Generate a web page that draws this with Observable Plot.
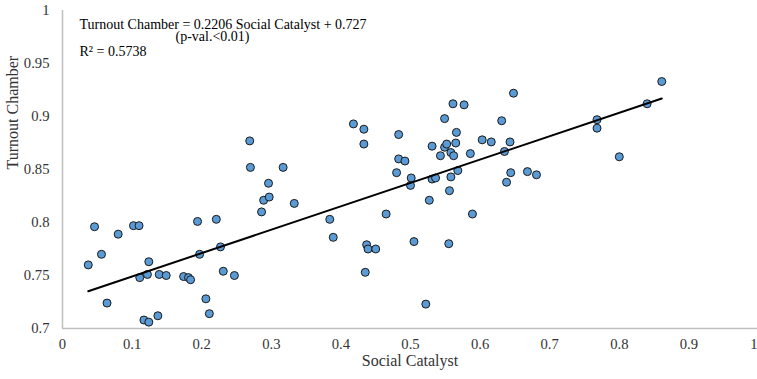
<!DOCTYPE html>
<html>
<head>
<meta charset="utf-8">
<script src="https://cdn.jsdelivr.net/npm/d3@7"></script>
<script src="https://cdn.jsdelivr.net/npm/@observablehq/plot@0.6"></script>
<style>
  html, body { margin: 0; padding: 0; background: #fff; }
  #chart svg { display: block; }
</style>
</head>
<body>
<div id="chart"></div>
<script>
const socialCatalyst = [
  0.037, 0.046, 0.056, 0.064, 0.080, 0.102, 0.110, 0.111, 0.122, 0.124,
  0.117, 0.124, 0.137, 0.139, 0.149, 0.174, 0.181, 0.184, 0.194, 0.197,
  0.206, 0.211, 0.221, 0.227, 0.231, 0.247, 0.269, 0.270, 0.296, 0.289,
  0.297, 0.286, 0.317, 0.333, 0.384, 0.389, 0.418, 0.433, 0.433, 0.435,
  0.437, 0.439, 0.450, 0.465, 0.480, 0.483, 0.483, 0.492, 0.500, 0.501,
  0.505, 0.522, 0.527, 0.531, 0.531, 0.536, 0.543, 0.549, 0.549, 0.552,
  0.555, 0.556, 0.558, 0.558, 0.562, 0.561, 0.565, 0.566, 0.568, 0.577,
  0.586, 0.589, 0.603, 0.616, 0.631, 0.635, 0.638, 0.643, 0.644, 0.668,
  0.681, 0.648, 0.768, 0.768, 0.800, 0.840, 0.861
];
const turnoutChamber = [
  0.760, 0.796, 0.770, 0.724, 0.789, 0.797, 0.797, 0.748, 0.751, 0.763,
  0.708, 0.706, 0.712, 0.751, 0.750, 0.749, 0.748, 0.746, 0.801, 0.770,
  0.728, 0.714, 0.803, 0.777, 0.754, 0.750, 0.877, 0.852, 0.837, 0.821,
  0.824, 0.810, 0.852, 0.818, 0.803, 0.786, 0.893, 0.888, 0.874, 0.753,
  0.779, 0.775, 0.775, 0.808, 0.847, 0.860, 0.883, 0.858, 0.835, 0.842,
  0.782, 0.723, 0.821, 0.872, 0.841, 0.842, 0.863, 0.898, 0.871, 0.874,
  0.780, 0.830, 0.843, 0.866, 0.863, 0.912, 0.875, 0.885, 0.849, 0.911,
  0.865, 0.808, 0.878, 0.876, 0.896, 0.867, 0.838, 0.876, 0.847, 0.848,
  0.845, 0.922, 0.897, 0.889, 0.862, 0.912, 0.933
];
const xTicks = [0, 0.1, 0.2, 0.3, 0.4, 0.5, 0.6, 0.7, 0.8, 0.9];
const xTickLabels = ["0", "0.1", "0.2", "0.3", "0.4", "0.5", "0.6", "0.7", "0.8", "0.9"];
const xLastTick = [1];
const xLastTickLabel = ["1"];
const yTicks = [0.7, 0.75, 0.8, 0.85, 0.9, 0.95, 1];
const yTickLabels = ["0.7", "0.75", "0.8", "0.85", "0.9", "0.95", "1"];
const trendSlope = 0.2206;
const trendIntercept = 0.727;
const annotationLines = [
  "Turnout Chamber = 0.2206 Social Catalyst + 0.727",
  "(p-val.<0.01)",
  "R\u00B2 = 0.5738"
];
const xTitle = "Social Catalyst";
const yTitle = "Turnout Chamber";

const points = socialCatalyst.map((x, i) => ({x, y: turnoutChamber[i]}));
const xMin = d3.min(socialCatalyst), xMax = d3.max(socialCatalyst);
const trend = [xMin, xMax].map(x => ({x, y: trendSlope * x + trendIntercept}));

const font = "'Liberation Serif', 'Times New Roman', serif";
const textColor = "#333";
const tickFont = 14.67;

const chart = Plot.plot({
  width: 757,
  height: 379,
  marginLeft: 62,
  marginRight: 0,
  marginTop: 10,
  marginBottom: 51,
  style: {fontFamily: font, fontSize: "14px", color: textColor, background: "#fff", overflow: "visible"},
  x: {domain: [0, 1], range: [62, 758]},
  y: {domain: [0.7, 1], range: [328, 10]},
  marks: [
    Plot.axisX(xTicks, {tickSize: 0, tickPadding: 10, tickFormat: (d, i) => xTickLabels[i], label: null, fontSize: tickFont, fontFamily: font}),
    Plot.axisX(xLastTick, {tickSize: 0, tickPadding: 10, tickFormat: (d, i) => xLastTickLabel[i], label: null, fontSize: tickFont, fontFamily: font, textAnchor: "end", dx: -1}),
    Plot.axisY(yTicks, {tickSize: 0, tickPadding: 13, tickFormat: (d, i) => yTickLabels[i], label: null, fontSize: tickFont, fontFamily: font}),
    Plot.ruleY([0.7], {stroke: "#bfbfbf", strokeWidth: 1.5}),
    Plot.ruleX([0], {stroke: "#bfbfbf", strokeWidth: 1.5}),
    Plot.dot(points, {x: "x", y: "y", r: 4, fill: "#5B9BD5", stroke: "#1a1a1a", strokeWidth: 1}),
    Plot.line(trend, {x: "x", y: "y", stroke: "#000", strokeWidth: 2}),
    Plot.text([annotationLines[0]], {frameAnchor: "top-left", textAnchor: "start", lineAnchor: "top", dx: 17, dy: 9, fontSize: 14, fontFamily: font, fill: "#000"}),
    Plot.text([annotationLines[1]], {frameAnchor: "top-left", textAnchor: "start", lineAnchor: "top", dx: 113, dy: 21, fontSize: 14, fontFamily: font, fill: "#000"}),
    Plot.text([annotationLines[2]], {frameAnchor: "top-left", textAnchor: "start", lineAnchor: "top", dx: 17, dy: 35.5, fontSize: 14, fontFamily: font, fill: "#000"}),
    Plot.text([xTitle], {frameAnchor: "bottom", dy: 37.5, fontSize: 16, fontFamily: font, fill: textColor}),
    Plot.text([yTitle], {frameAnchor: "left", rotate: -90, dx: -50, dy: 0, fontSize: 16, fontFamily: font, fill: textColor})
  ]
});
document.getElementById("chart").appendChild(chart);
</script>
</body>
</html>
